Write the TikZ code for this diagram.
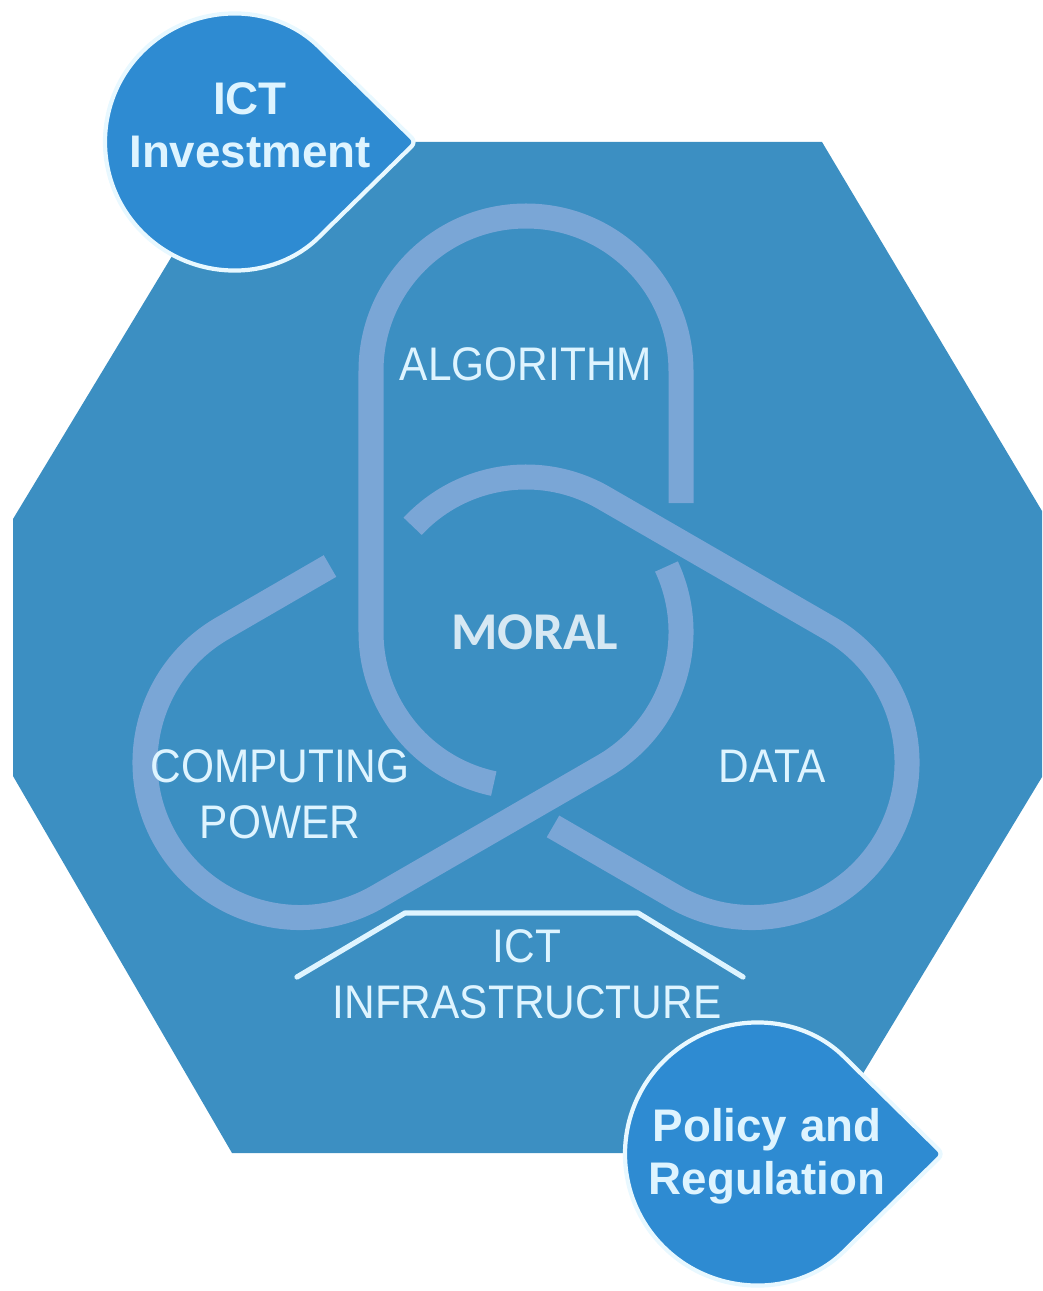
\documentclass[tikz,border=0pt]{standalone}
\usepackage{fontspec}
\usetikzlibrary{calc}

\newfontfamily\knotfont[FakeStretch=0.9]{Liberation Sans}
\newfontfamily\dropfont{Liberation Sans}
\newfontfamily\moralfont{Carlito}

\definecolor{hexblue}{RGB}{60,143,194}
\definecolor{dropblue}{RGB}{46,139,210}
\definecolor{dropline}{RGB}{232,248,255}
\definecolor{knotblue}{RGB}{122,166,214}
\definecolor{labelwhite}{RGB}{222,244,255}
\definecolor{moralwhite}{RGB}{214,232,243}

\begin{document}
\begin{tikzpicture}[x=0.01cm, y=0.01cm,
        knot/.style={draw=knotblue, line width=0.25cm},
        knotlabel/.style={text=labelwhite, font=\knotfont\fontsize{13.4}{16}\selectfont, align=center, inner sep=0pt},
        drop/.style={fill=dropblue, draw=dropline, line width=1.2pt, rounded corners=0.06cm},
        droplabel/.style={text=labelwhite, font=\dropfont\bfseries\fontsize{13}{15.2}\selectfont, align=center, inner sep=0pt},
        roof/.style={draw=labelwhite, line width=1.5pt, line cap=round, line join=round}]
                    \useasboundingbox (0, 0) rectangle (1042, -1291);
                    \fill[hexblue] (241, -142) -- (822, -142) -- (1042, -511) -- (1042, -777)
                        -- (815, -1153) -- (232, -1153) -- (13, -776) -- (13, -519) -- cycle;

                    \coordinate (C) at (526, -632);
                    \coordinate (A1) at (526, -371);
                    \coordinate (A2) at (752, -762.5);
                    \coordinate (A3) at (300, -762.5);
                    \coordinate (I) at (233, -142);
                    \coordinate (P) at (756, -1154);

                    % the three loops, cut where they pass under
                    \draw[knot] (681, -503) -- ($(A1)+(0:155)$) arc[start angle=0, end angle=180, radius=155]
                        -- ($(C)+(180:155)$) arc[start angle=180, end angle=258, radius=155];
                    \draw[knot] (553, -826.4) -- ($(A2)+(240:155)$) arc[start angle=240, end angle=420, radius=155]
                        -- ($(C)+(60:155)$) arc[start angle=60, end angle=137, radius=155];
                    \draw[knot] ($(C)+(25:155)$) arc[start angle=25, end angle=-60, radius=155]
                        -- ($(A3)+(-60:155)$) arc[start angle=-60, end angle=-240, radius=155] -- (330, -566);

                    \node[knotlabel] at (526, -364) (algorithm) {ALGORITHM};
                    \node[knotlabel] at (280, -794) (computing) {COMPUTING\\POWER};
                    \node[knotlabel] at (772, -766) (data) {DATA};
                    \node[knotlabel] at (527, -974) (infra) {ICT\\INFRASTRUCTURE};
                    \node[text=moralwhite, font=\moralfont\bfseries\fontsize{15.1}{18}\selectfont, inner sep=0pt]
                        at (535, -632) (moral) {MORAL};

                    \draw[roof] (297, -977) -- (405, -913) -- (638, -913) -- (743, -977);

                    \draw[drop] (416, -142) -- ($(I)+(45:128)$) arc[start angle=45, end angle=315, radius=128] -- cycle;
                    \draw[drop] (943, -1154) -- ($(P)+(45:131)$) arc[start angle=45, end angle=315, radius=131] -- cycle;
                    \node[droplabel] at (250, -125) (invest) {ICT\\Investment};
                    \node[droplabel] at (767, -1156) (policy) {Policy and\\Regulation};
                \end{tikzpicture}
\end{document}
